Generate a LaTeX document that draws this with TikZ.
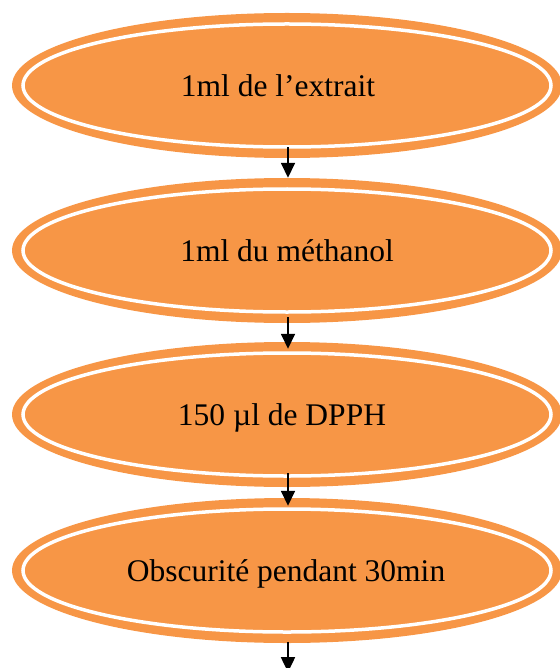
\documentclass[tikz,border=0pt]{standalone}
\usepackage{fontspec}
\setmainfont{Liberation Serif}
\usetikzlibrary{shapes.geometric,arrows.meta}
\definecolor{boxorange}{HTML}{F79646}
\tikzset{
  stepell/.style={ellipse, fill=boxorange, draw=none, inner sep=0pt,
    minimum width=550pt, minimum height=145pt,
    text height=22pt, text depth=0pt,
    font=\fontsize{31.5}{36}\selectfont},
  whiteline/.style={draw=white, line width=3.5pt},
  flowarrow/.style={-{Triangle[length=15pt,width=14pt]}, line width=1.6pt, black}
}
\begin{document}
\begin{tikzpicture}[x=1pt,y=-1pt]
\useasboundingbox (0,0) rectangle (559,668);
\node[stepell] (e1) at (287,85.5) {\hspace*{-18pt}1ml de l’extrait};
\node[stepell] (e2) at (287,250.5) {1ml du méthanol};
\node[stepell] (e3) at (287,414.5) {\hspace*{-10pt}150 µl de DPPH};
\node[stepell] (e4) at (287,570.5) {\hspace*{-2pt}Obscurité pendant 30min};
\foreach \n in {e1,e2,e3,e4}{
  \draw[whiteline] (\n.center) ellipse [x radius=264pt, y radius=61.5pt];
}
\coordinate (out) at ([yshift=-29pt,xshift=1pt]e4.south);
\draw[flowarrow] ([yshift=11pt,xshift=1pt]e1.south) -- ([xshift=1pt]e2.north);
\draw[flowarrow] ([yshift=6pt,xshift=1pt]e2.south) -- ([yshift=-7pt,xshift=1pt]e3.north);
\draw[flowarrow] ([yshift=14pt,xshift=1pt]e3.south) -- ([yshift=-8pt,xshift=1pt]e4.north);
\draw[flowarrow] ([yshift=1pt,xshift=1pt]e4.south) -- (out);
\end{tikzpicture}
\end{document}
